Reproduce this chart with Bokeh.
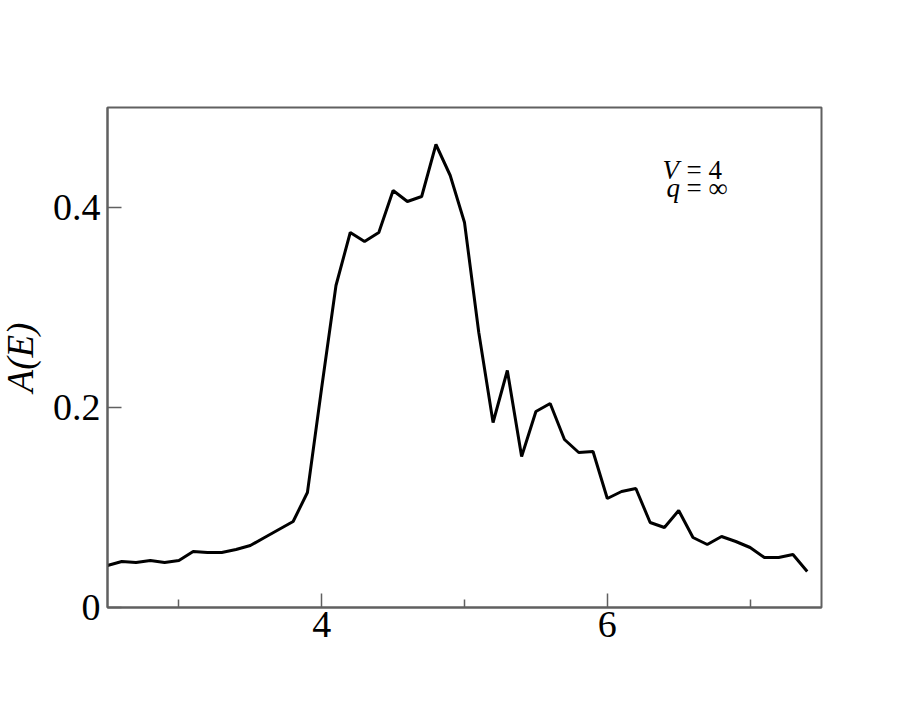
from bokeh.plotting import figure
from bokeh.models import FixedTicker, Label, Range1d
from bokeh.embed import file_html
from bokeh.resources import INLINE

energy = [2.5, 2.6, 2.7, 2.8, 2.9, 3.0, 3.1, 3.2, 3.3, 3.4,
          3.5, 3.6, 3.7, 3.8, 3.9, 4.0, 4.1, 4.2, 4.3, 4.4,
          4.5, 4.6, 4.7, 4.8, 4.9, 5.0, 5.1, 5.2, 5.3, 5.4,
          5.5, 5.6, 5.7, 5.8, 5.9, 6.0, 6.1, 6.2, 6.3, 6.4,
          6.5, 6.6, 6.7, 6.8, 6.9, 7.0, 7.1, 7.2, 7.3, 7.4]
spectral = [0.042, 0.046, 0.045, 0.047, 0.045, 0.047, 0.056, 0.055, 0.055, 0.058,
            0.062, 0.070, 0.078, 0.086, 0.115, 0.220, 0.322, 0.375, 0.366, 0.375,
            0.417, 0.406, 0.411, 0.463, 0.432, 0.385, 0.275, 0.185, 0.237, 0.151,
            0.196, 0.204, 0.168, 0.155, 0.156, 0.109, 0.116, 0.119, 0.085, 0.080,
            0.097, 0.070, 0.063, 0.071, 0.066, 0.060, 0.050, 0.050, 0.053, 0.036]

x_major = [4, 6]
x_minor = [3, 5, 7]
y_major = [0, 0.2, 0.4]
y_labels = ["0", "0.2", "0.4"]

FONT = "Liberation Serif"
FRAME = "#606060"

p = figure(frame_width=714, frame_height=500,
           min_border_left=117, min_border_top=107, min_border_right=95, min_border_bottom=99,
           x_range=Range1d(2.5, 7.5), y_range=Range1d(0, 0.5),
           output_backend="svg", toolbar_location=None)
p.margin = (0, 0, 0, -10)
p.background_fill_color = "white"
p.border_fill_color = "white"
p.grid.visible = False
p.outline_line_color = FRAME
p.outline_line_width = 2

p.line(energy, spectral, line_color="black", line_width=3)

xa = p.xaxis[0]
xa.ticker = FixedTicker(ticks=x_major, minor_ticks=x_minor)
xa.major_tick_in = 14
xa.major_tick_out = 0
xa.minor_tick_in = 8
xa.minor_tick_out = 0
xa.axis_line_color = FRAME
xa.axis_line_width = 2
xa.major_tick_line_color = FRAME
xa.minor_tick_line_color = FRAME
xa.major_tick_line_width = 1.5
xa.minor_tick_line_width = 1.5
xa.major_label_text_font = FONT
xa.major_label_text_font_size = "38px"
xa.major_label_text_color = "black"
xa.major_label_standoff = 4

ya = p.yaxis[0]
ya.ticker = FixedTicker(ticks=y_major, minor_ticks=[])
ya.major_label_overrides = {v: s for v, s in zip(y_major, y_labels)}
ya.major_tick_in = 14
ya.major_tick_out = 0
ya.minor_tick_in = 0
ya.minor_tick_out = 0
ya.axis_line_color = FRAME
ya.axis_line_width = 2
ya.major_tick_line_color = FRAME
ya.major_tick_line_width = 1.5
ya.major_label_text_font = FONT
ya.major_label_text_font_size = "38px"
ya.major_label_text_color = "black"
ya.major_label_standoff = 7
ya.axis_label = "A(E)"
ya.axis_label_text_font = FONT
ya.axis_label_text_font_size = "37px"
ya.axis_label_text_font_style = "italic"
ya.axis_label_text_color = "black"
ya.axis_label_standoff = 9


def lab(x, y, t, style="normal", size="27px"):
    p.add_layout(Label(x=x, y=y, text=t, text_font=FONT, text_font_size=size,
                       text_font_style=style, text_color="black",
                       text_baseline="alphabetic", text_align="left"))


lab(6.387, 0.438, "V", "italic")
lab(6.555, 0.438, "= 4")
lab(6.415, 0.420, "q", "italic")
lab(6.555, 0.420, "= \u221e")

open("out.html", "w").write(file_html(p, INLINE))
